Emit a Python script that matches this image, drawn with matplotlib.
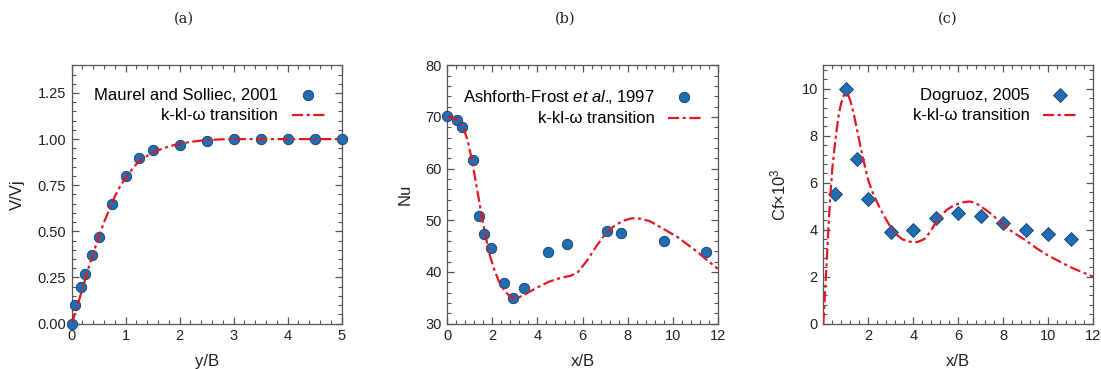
import matplotlib
matplotlib.use("Agg")
import matplotlib.pyplot as plt
from matplotlib.ticker import AutoMinorLocator, FormatStrFormatter

plt.rcParams['font.family'] = ['Liberation Sans', 'DejaVu Sans']
plt.rcParams['mathtext.fontset'] = 'custom'
plt.rcParams['mathtext.rm'] = 'Liberation Sans'
plt.rcParams['mathtext.it'] = 'Liberation Sans:italic'

# ---------------- data ----------------
# (a)
a_exp_x = [0.0, 0.06, 0.17, 0.25, 0.37, 0.5, 0.75, 1.0, 1.25, 1.5, 2.0, 2.5, 3.0, 3.5, 4.0, 4.5, 5.0]
a_exp_y = [0.0, 0.10, 0.20, 0.27, 0.37, 0.47, 0.65, 0.80, 0.90, 0.94, 0.97, 0.99, 1.0, 1.0, 1.0, 1.0, 1.0]
a_sim_x = [0.0, 0.1, 0.2, 0.3, 0.4, 0.5, 0.6, 0.7, 0.8, 0.9, 1.0, 1.1, 1.2, 1.3, 1.4, 1.5, 1.6, 1.8, 2.0, 2.2, 2.4, 2.6, 2.8, 3.0, 3.5, 4.0, 4.5, 5.0]
a_sim_y = [0.0, 0.09, 0.19, 0.29, 0.38, 0.47, 0.55, 0.62, 0.69, 0.745, 0.79, 0.83, 0.865, 0.89, 0.91, 0.925, 0.94, 0.96, 0.975, 0.985, 0.992, 0.996, 0.999, 1.0, 1.0, 1.0, 1.0, 1.0]

# (b)
b_exp_x = [0.0, 0.44, 0.64, 1.14, 1.4, 1.63, 1.92, 2.53, 2.91, 3.4, 4.47, 5.31, 7.1, 7.72, 9.62, 11.5]
b_exp_y = [70.1, 69.5, 68.1, 61.6, 50.9, 47.3, 44.7, 37.9, 34.9, 36.9, 43.9, 45.4, 47.9, 47.5, 45.9, 43.8]
b_sim_x = [0.0, 0.3, 0.5, 0.7, 0.9, 1.1, 1.3, 1.5, 1.7, 1.9, 2.1, 2.3, 2.5, 2.7, 2.9, 3.1, 3.5, 4.0, 4.5, 5.0, 5.5, 5.8, 6.2, 6.6, 7.0, 7.4, 7.8, 8.2, 8.6, 9.0, 9.6, 10.2, 11.0, 12.0]
b_sim_y = [70.0, 69.8, 69.3, 68.0, 65.5, 61.5, 56.5, 51.5, 46.8, 43.0, 40.2, 38.1, 36.6, 35.6, 35.0, 34.9, 35.8, 37.0, 38.1, 38.8, 39.3, 40.0, 42.2, 44.9, 47.3, 48.9, 49.9, 50.4, 50.3, 49.8, 48.3, 46.8, 44.2, 40.6]

# (c)
c_exp_x = [0.5, 1.0, 1.5, 2.0, 3.0, 4.0, 5.0, 6.0, 7.0, 8.0, 9.0, 10.0, 11.0]
c_exp_y = [5.5, 10.0, 7.0, 5.3, 3.9, 4.0, 4.5, 4.7, 4.6, 4.3, 4.0, 3.8, 3.6]
c_sim_x = [0.0, 0.05, 0.1, 0.2, 0.3, 0.4, 0.5, 0.6, 0.7, 0.8, 0.9, 1.0, 1.1, 1.2, 1.35, 1.5, 1.75, 2.0, 2.25, 2.5, 2.75, 3.0, 3.25, 3.5, 3.75, 4.0, 4.2, 4.5, 4.75, 5.0, 5.25, 5.5, 5.75, 6.0, 6.25, 6.5, 6.75, 7.0, 7.5, 8.0, 8.5, 9.0, 9.5, 10.0, 10.5, 11.0, 11.5, 12.0]
c_sim_y = [0.0, 0.9, 1.7, 3.6, 5.3, 6.6, 7.5, 8.3, 9.0, 9.4, 9.7, 9.8, 9.75, 9.5, 8.95, 8.25, 7.1, 6.1, 5.45, 4.95, 4.5, 4.1, 3.8, 3.6, 3.5, 3.47, 3.48, 3.6, 3.9, 4.3, 4.6, 4.85, 5.0, 5.1, 5.17, 5.2, 5.15, 5.0, 4.65, 4.2, 3.85, 3.55, 3.2, 2.9, 2.65, 2.4, 2.2, 2.0]

# ---------------- style ----------------
BLUE = '#1f6db2'
EDGE = '#123e66'
RED = '#e3171f'
GRAY = '#555555'
TXT = '#222222'
LS = (0, (5, 1.6, 1.4, 1.6))

fig = plt.figure(figsize=(11.01, 3.69), dpi=100)

axes_rects = [
    [0.0651, 0.123, 0.2452, 0.70],
    [0.4063, 0.123, 0.2456, 0.70],
    [0.7478, 0.123, 0.2450, 0.70],
]
axs = [fig.add_axes(r) for r in axes_rects]


def style(ax, xlabel, ylabel):
    for s in ax.spines.values():
        s.set_color(GRAY)
        s.set_linewidth(0.9)
    ax.tick_params(which='both', direction='in', top=True, right=True,
                   colors=GRAY, labelcolor=TXT, labelsize=10.5)
    ax.tick_params(which='major', length=5, width=0.9, pad=4)
    ax.tick_params(which='minor', length=2.8, width=0.8)
    ax.xaxis.set_minor_locator(AutoMinorLocator(5))
    ax.yaxis.set_minor_locator(AutoMinorLocator(5))
    ax.set_xlabel(xlabel, fontsize=12, color=TXT, labelpad=8)
    ax.set_ylabel(ylabel, fontsize=12, color=TXT, labelpad=9)


# (a)
ax = axs[0]
ax.plot(a_exp_x, a_exp_y, 'o', color=BLUE, mec=EDGE, mew=0.6, ms=7.5,
        label='Maurel and Solliec, 2001', clip_on=False, zorder=3)
ax.plot(a_sim_x, a_sim_y, color=RED, lw=1.6, ls=LS, label='k-kl-ω transition', zorder=4)
ax.set_xlim(0, 5)
ax.set_ylim(0, 1.4)
ax.set_xticks([0, 1, 2, 3, 4, 5])
ax.set_yticks([0, 0.25, 0.5, 0.75, 1.0, 1.25])
ax.yaxis.set_major_formatter(FormatStrFormatter('%.2f'))
style(ax, 'y/B', 'V/Vj')

# (b)
ax = axs[1]
ax.plot(b_exp_x, b_exp_y, 'o', color=BLUE, mec=EDGE, mew=0.6, ms=7.5,
        label=r'Ashforth-Frost $\mathit{et\ al.}\!\!$, 1997', clip_on=False, zorder=3)
ax.plot(b_sim_x, b_sim_y, color=RED, lw=1.6, ls=LS, label='k-kl-ω transition', zorder=4)
ax.set_xlim(0, 12)
ax.set_ylim(30, 80)
ax.set_xticks([0, 2, 4, 6, 8, 10, 12])
ax.set_yticks([30, 40, 50, 60, 70, 80])
style(ax, 'x/B', 'Nu')

# (c)
ax = axs[2]
ax.plot(c_exp_x, c_exp_y, 'D', color=BLUE, mec=EDGE, mew=0.6, ms=7.5,
        label='Dogruoz, 2005', clip_on=False, zorder=3)
ax.plot(c_sim_x, c_sim_y, color=RED, lw=1.6, ls=LS, label='k-kl-ω transition', zorder=4)
ax.set_xlim(0, 12)
ax.set_ylim(0, 11)
ax.set_xticks([2, 4, 6, 8, 10, 12])
ax.set_yticks([0, 2, 4, 6, 8, 10])
style(ax, 'x/B', 'Cf×10$^{3}$')

for ax in axs:
    ax.legend(loc='upper right', frameon=False, markerfirst=False, fontsize=12,
              handlelength=2.0, handletextpad=0.8, labelspacing=0.3,
              borderaxespad=0.6, bbox_to_anchor=(1.0, 0.975))

for x, t in zip([184, 565, 948], ['(a)', '(b)', '(c)']):
    fig.text(x / 1101, 1 - 19 / 369, t, ha='center', va='center',
             fontsize=10.5, family='DejaVu Serif', color=TXT)

fig.savefig('out.png', dpi=100)
